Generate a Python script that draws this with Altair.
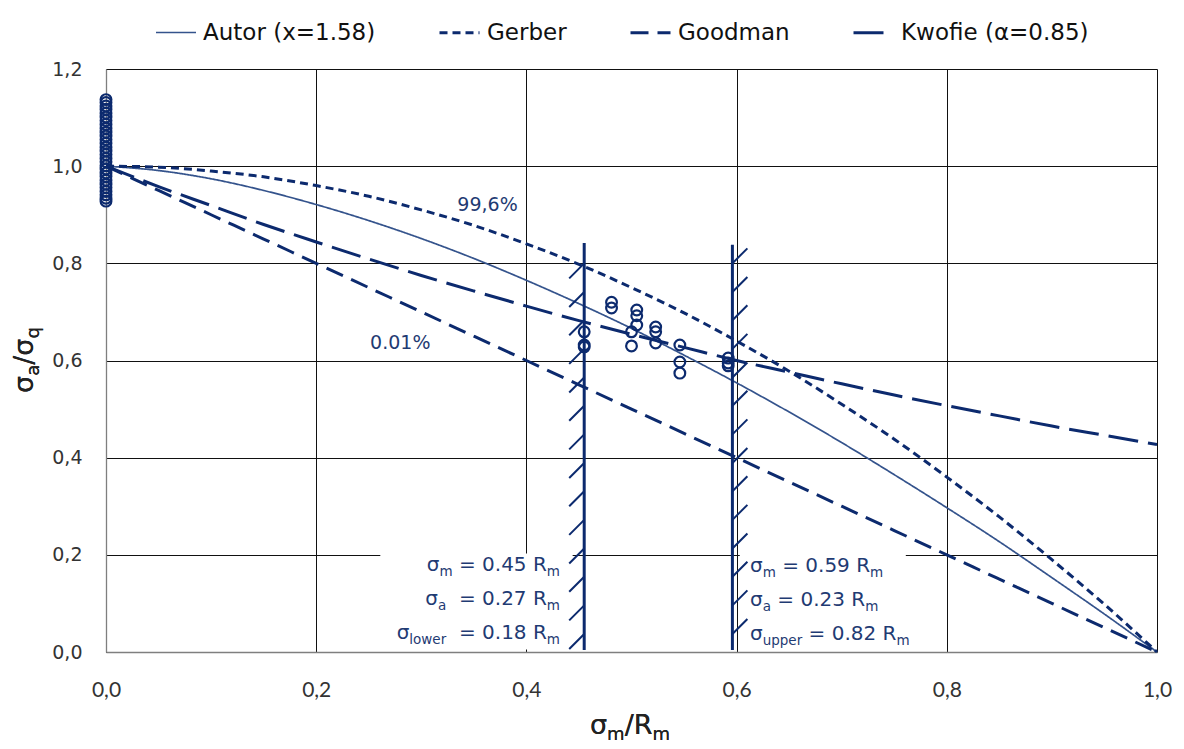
import altair as alt
import pandas as pd
import numpy as np

# ---------------- data ----------------
sm = [0.00, 0.05, 0.10, 0.15, 0.20, 0.25, 0.30, 0.35, 0.40, 0.45, 0.50,
      0.55, 0.60, 0.65, 0.70, 0.75, 0.80, 0.85, 0.90, 0.95, 1.00]
autor = [1.000, 0.991, 0.974, 0.950, 0.921, 0.888, 0.851, 0.810, 0.765, 0.717, 0.666,
         0.611, 0.554, 0.494, 0.431, 0.365, 0.297, 0.227, 0.153, 0.078, 0.000]
gerber = [1.000, 0.998, 0.990, 0.978, 0.960, 0.938, 0.910, 0.878, 0.840, 0.798, 0.750,
          0.698, 0.640, 0.578, 0.510, 0.438, 0.360, 0.278, 0.190, 0.098, 0.000]
goodman = [1.00, 0.95, 0.90, 0.85, 0.80, 0.75, 0.70, 0.65, 0.60, 0.55, 0.50,
           0.45, 0.40, 0.35, 0.30, 0.25, 0.20, 0.15, 0.10, 0.05, 0.00]
kwofie = [1.000, 0.958, 0.919, 0.880, 0.844, 0.809, 0.775, 0.743, 0.712, 0.682, 0.654,
          0.627, 0.600, 0.576, 0.552, 0.529, 0.507, 0.486, 0.465, 0.446, 0.427]
series_names = ["Autor (x=1.58)", "Gerber", "Goodman", "Kwofie (α=0.85)"]

zero_y = [0.928, 0.934, 0.941, 0.948, 0.956, 0.963, 0.971, 0.979, 0.986, 0.994,
          1.001, 1.009, 1.016, 1.024, 1.031, 1.039, 1.047, 1.055, 1.062, 1.070,
          1.078, 1.086, 1.094, 1.101, 1.109, 1.117, 1.124, 1.131, 1.137]

test_x = [0.455, 0.455, 0.455, 0.481, 0.481, 0.500, 0.500, 0.505, 0.505, 0.505,
          0.523, 0.523, 0.523, 0.546, 0.546, 0.546, 0.592, 0.592, 0.592]
test_y = [0.659, 0.632, 0.628, 0.720, 0.708, 0.659, 0.630, 0.704, 0.692, 0.673,
          0.669, 0.659, 0.636, 0.632, 0.597, 0.574, 0.605, 0.595, 0.589]

bound_x = [0.455, 0.596]          # lower / upper bound lines
bound_lo = [0.004, 0.004]
bound_hi = [0.842, 0.838]
hatch_levels = [0.800, 0.741, 0.683, 0.624, 0.565, 0.507, 0.448,
                0.389, 0.331, 0.272, 0.213, 0.155, 0.096, 0.037]

curve_labels = ["99,6%", "0.01%"]
curve_label_x = [0.363, 0.280]
curve_label_y = [0.920, 0.636]

left_lines = [["σ", "m", " = 0.45 R", "m"],
              ["σ", "a", "  = 0.27 R", "m"],
              ["σ", "lower", "  = 0.18 R", "m"]]
right_lines = [["σ", "m", " = 0.59 R", "m"],
               ["σ", "a", " = 0.23 R", "m"],
               ["σ", "upper", " = 0.82 R", "m"]]
left_base = [0.167, 0.097, 0.027]
right_base = [0.165, 0.095, 0.025]

box_x = [0.261, 0.603]
box_x2 = [0.444, 0.761]
box_y = [0.005, 0.005]
box_y2 = [0.203, 0.203]

# ---------------- styles ----------------
W, H = 1051, 583
PXX, PXY = W / 1.0, H / 1.2
NAVY = "#0c2a6e"
AUT = "#34538c"
TXT = "#1f3b73"
FONT = "DejaVu Sans"

CW = {' ': 0.318, '=': 0.838, '.': 0.318, 'R': 0.695, 'm': 0.974, 'a': 0.613,
      'l': 0.278, 'o': 0.612, 'w': 0.818, 'e': 0.615, 'r': 0.411, 'u': 0.634,
      'p': 0.635, 'σ': 0.634, '/': 0.337, 'q': 0.635}
for d in "0123456789":
    CW[d] = 0.636


def tw(s, fs):
    return sum(CW.get(c, 0.6) for c in s) * fs


xscale = alt.Scale(domain=[0, 1], nice=False, zero=False)
yscale = alt.Scale(domain=[0, 1.2], nice=False, zero=False)
lab = "replace(format(datum.value, '.1f'), '.', ',')"
xaxis = alt.Axis(values=[0, 0.2, 0.4, 0.6, 0.8, 1.0], labelExpr=lab, title=None,
                 grid=True, gridColor="#111111", gridWidth=1, domainColor="#7f7f7f",
                 domainWidth=1.3, ticks=False, labelPadding=27, labelFont="Lato",
                 labelFontSize=21, labelColor="#333333", labelFlush=False)
yaxis = alt.Axis(values=[0, 0.2, 0.4, 0.6, 0.8, 1.0, 1.2], labelExpr=lab, title=None,
                 grid=True, gridColor="#111111", gridWidth=1, domainColor="#7f7f7f",
                 domainWidth=1.3, ticks=False, labelPadding=24, labelFont=FONT,
                 labelFontSize=19, labelColor="#333333", labelFlush=False)


def X(f):
    return alt.X(f, type="quantitative", scale=xscale, axis=xaxis)


def Y(f):
    return alt.Y(f, type="quantitative", scale=yscale, axis=yaxis)


# ---------------- tables ----------------
curves = pd.concat([
    pd.DataFrame({"x": sm, "y": vals, "series": name, "o": range(len(sm))})
    for name, vals in zip(series_names, [autor, gerber, goodman, kwofie])
])
zero_df = pd.DataFrame({"x": [0.0] * len(zero_y), "y": zero_y})
test_df = pd.DataFrame({"x": test_x, "y": test_y})
bound_df = pd.DataFrame({"x": bound_x, "lo": bound_lo, "hi": bound_hi})
hx, hy = 15 / PXX, 15 / PXY
hrows = []
for k in hatch_levels:
    hrows.append({"x1": bound_x[0] - hx, "x2": bound_x[0], "y1": k - hy, "y2": k})
    hrows.append({"x1": bound_x[1], "x2": bound_x[1] + hx, "y1": k, "y2": k + hy})
hatch_df = pd.DataFrame(hrows)
box_df = pd.DataFrame({"x": box_x, "x2": box_x2, "y": box_y, "y2": box_y2})
clab_df = pd.DataFrame({"x": curve_label_x, "y": curve_label_y, "t": curve_labels})

MAIN, SUB = 20, 13.5
rows = []
for lines, bases, side in [(left_lines, left_base, "L"), (right_lines, right_base, "R")]:
    for segs, base in zip(lines, bases):
        sizes = [MAIN, SUB, MAIN, SUB]
        total = sum(tw(s, f) for s, f in zip(segs, sizes))
        cum = (454 - total) if side == "L" else 644
        for i, (s, f) in enumerate(zip(segs, sizes)):
            lead = len(s) - len(s.lstrip())
            xp = cum + lead * CW[' '] * f
            rows.append({"x": xp / PXX, "y": base, "t": s.strip(),
                         "kind": "sub" if i % 2 else "main"})
            cum += tw(s, f)
ann_df = pd.DataFrame(rows)

# ---------------- layers ----------------
LEG = alt.Legend(title=None, orient="none", legendX=49, legendY=-58, direction="horizontal",
                 symbolType="stroke", symbolSize=1600, labelFont=FONT, labelFontSize=23,
                 labelColor="#111111", labelOffset=6, columnPadding=57, padding=0,
                 labelLimit=500)

boxes = alt.Chart(box_df).mark_rect(color="white").encode(
    x=X("x"), x2="x2", y=Y("y"), y2="y2")

lines = alt.Chart(curves).mark_line(interpolate="monotone").encode(
    x=X("x"), y=Y("y"),
    order="o:Q",
    color=alt.Color("series:N", scale=alt.Scale(domain=series_names,
                                                range=[AUT, NAVY, NAVY, NAVY]), legend=LEG),
    strokeDash=alt.StrokeDash("series:N", scale=alt.Scale(
        domain=series_names, range=[[1, 0], [8, 5], [18, 9], [30, 10]]), legend=LEG),
    strokeWidth=alt.StrokeWidth("series:N", scale=alt.Scale(
        type="ordinal", domain=series_names, range=[1.7, 3, 3, 3]), legend=LEG),
)

bounds = alt.Chart(bound_df).mark_rule(color=NAVY, strokeWidth=3).encode(
    x=X("x"), y=Y("lo"), y2="hi")
hatches = alt.Chart(hatch_df).mark_rule(color=NAVY, strokeWidth=2).encode(
    x=X("x1"), x2="x2", y=Y("y1"), y2="y2")

zero_pts = alt.Chart(zero_df).mark_point(shape="circle", filled=False, size=115,
                                         strokeWidth=2.2, color=NAVY, opacity=1).encode(
    x=X("x"), y=Y("y"))
test_pts = alt.Chart(test_df).mark_point(shape="circle", filled=False, size=115,
                                         strokeWidth=2.2, color=NAVY, opacity=1).encode(
    x=X("x"), y=Y("y"))

clabels = alt.Chart(clab_df).mark_text(font=FONT, fontSize=19, color=TXT, align="center",
                                       baseline="middle").encode(x=X("x"), y=Y("y"), text="t:N")

ann_main = alt.Chart(ann_df).transform_filter("datum.kind == 'main'").mark_text(
    font=FONT, fontSize=MAIN, color=TXT, align="left", baseline="alphabetic").encode(
    x=X("x"), y=Y("y"), text="t:N")
ann_sub = alt.Chart(ann_df).transform_filter("datum.kind == 'sub'").mark_text(
    font=FONT, fontSize=SUB, color=TXT, align="left", baseline="alphabetic", dy=5).encode(
    x=X("x"), y=Y("y"), text="t:N")

# axis titles with subscripts
title_layers = []
TM, TS = 27, 18
xt = ["σ", "m", "/R", "m"]
xs_ = [TM, TS, TM, TS]
tot = sum(tw(s, f) for s, f in zip(xt, xs_))
cum = 524 - tot / 2
for i, (s, f) in enumerate(zip(xt, xs_)):
    title_layers.append(alt.Chart(box_df).mark_text(
        text=s, fontSize=f, font=FONT, color="#222222", align="left", baseline="alphabetic"
    ).encode(x=alt.value(cum), y=alt.value(665 + (6 if i % 2 else 0))))
    cum += tw(s, f)

yt = ["σ", "a", "/σ", "q"]
tot = sum(tw(s, f) for s, f in zip(yt, xs_))
cum = 291 + tot / 2
for i, (s, f) in enumerate(zip(yt, xs_)):
    title_layers.append(alt.Chart(box_df).mark_text(
        text=s, fontSize=f, font=FONT, color="#222222", align="left", baseline="alphabetic",
        angle=270
    ).encode(x=alt.value(-73 + (6 if i % 2 else 0)), y=alt.value(cum)))
    cum -= tw(s, f)

chart = alt.layer(boxes, lines, bounds, hatches, zero_pts, test_pts, clabels,
                  ann_main, ann_sub, *title_layers).properties(
    width=W, height=H,
    autosize=alt.AutoSizeParams(type="none"),
    padding={"left": 98, "top": 61, "right": 19, "bottom": 96},
    background="white",
).configure_view(strokeWidth=0)

chart.save("out.html", embed_options={"renderer": "svg", "actions": False})
